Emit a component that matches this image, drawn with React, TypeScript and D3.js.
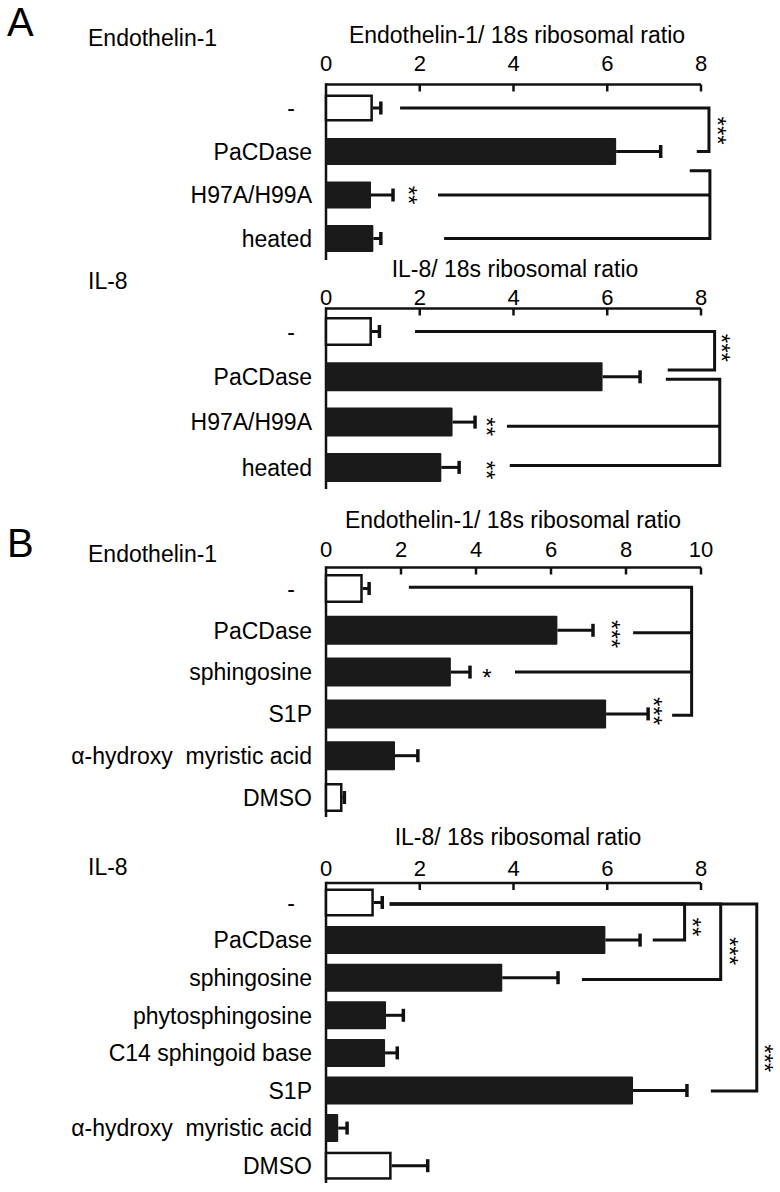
import React from "react";
import * as d3 from "d3";

// ---------- data ----------
const A_CATEGORIES = ["-", "PaCDase", "H97A/H99A", "heated"];
const A_ET1_VALUES = [1.0, 6.19, 0.96, 1.01];
const A_ET1_ERRORS = [1.17, 7.14, 1.43, 1.17];
const A_IL8_VALUES = [0.98, 5.9, 2.7, 2.46];
const A_IL8_ERRORS = [1.14, 6.7, 3.18, 2.84];

const B_ET1_CATEGORIES = ["-", "PaCDase", "sphingosine", "S1P", "α-hydroxy  myristic acid", "DMSO"];
const B_ET1_VALUES = [0.98, 6.17, 3.33, 7.47, 1.84, 0.44];
const B_ET1_ERRORS = [1.15, 7.12, 3.84, 8.59, 2.45, 0.49];

const B_IL8_CATEGORIES = [
  "-",
  "PaCDase",
  "sphingosine",
  "phytosphingosine",
  "C14 sphingoid base",
  "S1P",
  "α-hydroxy  myristic acid",
  "DMSO",
];
const B_IL8_VALUES = [1.02, 5.96, 3.76, 1.28, 1.26, 6.55, 0.26, 1.4];
const B_IL8_ERRORS = [1.2, 6.7, 4.95, 1.65, 1.52, 7.7, 0.45, 2.17];

const OPEN_CATEGORIES = ["-", "DMSO"];

const TICKS_8 = [0, 2, 4, 6, 8];
const TICKS_10 = [0, 2, 4, 6, 8, 10];

const TITLE_ET1 = "Endothelin-1/ 18s ribosomal ratio";
const TITLE_IL8 = "IL-8/ 18s ribosomal ratio";
const GENE_ET1 = "Endothelin-1";
const GENE_IL8 = "IL-8";

// significance annotations: x in ratio units, y in row index units
type Arm = { row: number; from: number };
type Bracket = { x: number; arms: Arm[] };
type Star = { x: number; row: number; text: string; vertical: boolean };

const A_ET1_BRACKETS: Bracket[] = [
  { x: 8.17, arms: [{ row: 0, from: 1.58 }, { row: 1, from: 7.91 }] },
  { x: 8.19, arms: [{ row: 1.44, from: 7.76 }, { row: 2, from: 2.39 }, { row: 3, from: 2.52 }] },
];
const A_ET1_STARS: Star[] = [
  { x: 8.46, row: 0.52, text: "***", vertical: true },
  { x: 1.86, row: 2, text: "**", vertical: true },
];

const A_IL8_BRACKETS: Bracket[] = [
  { x: 8.29, arms: [{ row: 0, from: 1.9 }, { row: 0.85, from: 7.29 }] },
  { x: 8.4, arms: [{ row: 1.055, from: 7.25 }, { row: 2.09, from: 3.86 }, { row: 2.96, from: 3.92 }] },
];
const A_IL8_STARS: Star[] = [
  { x: 8.54, row: 0.36, text: "***", vertical: true },
  { x: 3.54, row: 2.1, text: "**", vertical: true },
  { x: 3.54, row: 3.06, text: "**", vertical: true },
];

const B_ET1_BRACKETS: Bracket[] = [
  {
    x: 9.75,
    arms: [
      { row: -0.03, from: 2.21 },
      { row: 1.06, from: 8.19 },
      { row: 2, from: 5.04 },
      { row: 3.03, from: 9.23 },
    ],
  },
];
const B_ET1_STARS: Star[] = [
  { x: 7.76, row: 1.09, text: "***", vertical: true },
  { x: 4.29, row: 2, text: "*", vertical: false },
  { x: 8.88, row: 2.93, text: "***", vertical: true },
];

const B_IL8_BRACKETS: Bracket[] = [
  { x: 7.65, arms: [{ row: 0.04, from: 1.36 }, { row: 1.0, from: 6.97 }] },
  { x: 8.42, arms: [{ row: 0.04, from: 1.36 }, { row: 2.05, from: 5.46 }] },
  { x: 9.19, arms: [{ row: 0.04, from: 1.36 }, { row: 5.01, from: 8.21 }] },
];
const B_IL8_STARS: Star[] = [
  { x: 7.92, row: 0.65, text: "**", vertical: true },
  { x: 8.71, row: 1.29, text: "***", vertical: true },
  { x: 9.47, row: 4.14, text: "***", vertical: true },
];

// ---------- layout ----------
type Layout = {
  axisY: number;
  xRange: [number, number];
  domainMax: number;
  tickBaseline: number;
  titleX: number;
  titleBaseline: number;
  geneBaseline: number;
  bandTop: number;
  step: number;
  barH: number;
  axisBottom: number;
};

const FONT = "'Liberation Sans', Arial, Helvetica, sans-serif";
const INK = "#111";
const LABEL_X = 312;
const GENE_X = 88;
const STAR_SIZE = 24;

type PanelProps = {
  layout: Layout;
  title: string;
  gene: string;
  categories: string[];
  values: number[];
  errors: number[];
  ticks: number[];
  brackets: Bracket[];
  stars: Star[];
};

function Panel({ layout, title, gene, categories, values, errors, ticks, brackets, stars }: PanelProps) {
  const x = d3.scaleLinear().domain([0, layout.domainMax]).range(layout.xRange);
  const n = categories.length;
  const p = 1 - layout.barH / layout.step;
  const y = d3
    .scaleBand<string>()
    .domain(categories)
    .range([layout.bandTop, layout.bandTop + layout.step * (n - p)])
    .paddingInner(p)
    .paddingOuter(0);
  const bw = y.bandwidth();
  const row = (i: number) => (y(categories[0]) as number) + bw / 2 + i * y.step();
  const x0 = x(0);
  const capHalf = 6.5;

  return (
    <g>
      <text x={layout.titleX} y={layout.titleBaseline} fontSize={23} textAnchor="middle" fill="#000">
        {title}
      </text>
      <text x={GENE_X} y={layout.geneBaseline} fontSize={23} fill="#000">
        {gene}
      </text>
      {/* top axis */}
      <line x1={x0} x2={x(layout.domainMax)} y1={layout.axisY} y2={layout.axisY} stroke={INK} strokeWidth={2.5} />
      {ticks.map((t) => (
        <g key={t}>
          {t > 0 && (
            <line x1={x(t)} x2={x(t)} y1={layout.axisY} y2={layout.axisY + 7} stroke={INK} strokeWidth={2.5} />
          )}
          <text x={x(t)} y={layout.tickBaseline} fontSize={22} textAnchor="middle" fill="#000">
            {t}
          </text>
        </g>
      ))}
      {/* left axis */}
      <line x1={x0} x2={x0} y1={layout.axisY - 1.25} y2={layout.axisBottom} stroke={INK} strokeWidth={2.5} />
      {/* bars */}
      {categories.map((c, i) => {
        const top = y(c) as number;
        const cy = top + bw / 2;
        const open = OPEN_CATEGORIES.includes(c);
        const xe = x(values[i]);
        const xr = x(errors[i]);
        return (
          <g key={c}>
            {open ? (
              <rect x={x0} y={top + 1.25} width={xe - x0 - 1.25} height={bw - 2.5} fill="#fff" stroke={INK} strokeWidth={2.5} />
            ) : (
              <rect x={x0} y={top} width={xe - x0} height={bw} fill="#1a1a1a" rx={1} />
            )}
            <line x1={xe} x2={xr} y1={cy} y2={cy} stroke={INK} strokeWidth={3} />
            <line x1={xr} x2={xr} y1={cy - capHalf} y2={cy + capHalf} stroke={INK} strokeWidth={3.5} />
            <text
              x={c === "-" ? LABEL_X - 17 : LABEL_X}
              y={cy}
              dy="0.36em"
              fontSize={23}
              textAnchor="end"
              fill="#000"
              style={{ whiteSpace: "pre" }}
            >
              {c}
            </text>
          </g>
        );
      })}
      {/* significance brackets */}
      {brackets.map((b, bi) => {
        const arms = [...b.arms].sort((a, c) => a.row - c.row);
        const first = arms[0];
        const last = arms[arms.length - 1];
        const xv = x(b.x);
        const outer = `M${x(first.from)},${row(first.row)}H${xv}V${row(last.row)}H${x(last.from)}`;
        return (
          <g key={bi}>
            <path d={outer} fill="none" stroke={INK} strokeWidth={3} strokeLinejoin="miter" />
            {arms.slice(1, -1).map((a, ai) => (
              <line key={ai} x1={x(a.from)} x2={xv} y1={row(a.row)} y2={row(a.row)} stroke={INK} strokeWidth={3} />
            ))}
          </g>
        );
      })}
      {stars.map((s, si) =>
        s.vertical ? (
          <text
            key={si}
            transform={`translate(${x(s.x)},${row(s.row)}) rotate(90)`}
            dy="0.57em"
            fontSize={STAR_SIZE}
            textAnchor="middle"
            fill="#000"
          >
            {s.text}
          </text>
        ) : (
          <text key={si} x={x(s.x)} y={row(s.row)} dy="0.57em" fontSize={STAR_SIZE} textAnchor="middle" fill="#000">
            {s.text}
          </text>
        )
      )}
    </g>
  );
}

const LAYOUT_A_ET1: Layout = {
  axisY: 84.5,
  xRange: [326, 701],
  domainMax: 8,
  tickBaseline: 70.5,
  titleX: 517,
  titleBaseline: 43,
  geneBaseline: 46,
  bandTop: 94.5,
  step: 43.5,
  barH: 27,
  axisBottom: 260,
};
const LAYOUT_A_IL8: Layout = {
  axisY: 308.5,
  xRange: [326, 701],
  domainMax: 8,
  tickBaseline: 305,
  titleX: 515,
  titleBaseline: 277,
  geneBaseline: 289,
  bandTop: 317,
  step: 45.3,
  barH: 29,
  axisBottom: 489,
};
const LAYOUT_B_ET1: Layout = {
  axisY: 567.5,
  xRange: [326, 701],
  domainMax: 10,
  tickBaseline: 557,
  titleX: 513,
  titleBaseline: 528,
  geneBaseline: 562,
  bandTop: 574,
  step: 41.8,
  barH: 29,
  axisBottom: 817,
};
const LAYOUT_B_IL8: Layout = {
  axisY: 883,
  xRange: [326, 701],
  domainMax: 8,
  tickBaseline: 876,
  titleX: 518,
  titleBaseline: 845,
  geneBaseline: 875,
  bandTop: 888.5,
  step: 37.6,
  barH: 28,
  axisBottom: 1183,
};

export default function App() {
  return (
    <svg
      width={780}
      height={1192}
      viewBox="0 0 780 1192"
      style={{ position: "absolute", left: 0, top: 0, background: "#fff" }}
      fontFamily={FONT}
    >
      <rect width={780} height={1192} fill="#fff" />
      <text x={7} y={36} fontSize={40} fill="#000">A</text>
      <text x={7} y={557} fontSize={40} fill="#000">B</text>
      <Panel
        layout={LAYOUT_A_ET1}
        title={TITLE_ET1}
        gene={GENE_ET1}
        categories={A_CATEGORIES}
        values={A_ET1_VALUES}
        errors={A_ET1_ERRORS}
        ticks={TICKS_8}
        brackets={A_ET1_BRACKETS}
        stars={A_ET1_STARS}
      />
      <Panel
        layout={LAYOUT_A_IL8}
        title={TITLE_IL8}
        gene={GENE_IL8}
        categories={A_CATEGORIES}
        values={A_IL8_VALUES}
        errors={A_IL8_ERRORS}
        ticks={TICKS_8}
        brackets={A_IL8_BRACKETS}
        stars={A_IL8_STARS}
      />
      <Panel
        layout={LAYOUT_B_ET1}
        title={TITLE_ET1}
        gene={GENE_ET1}
        categories={B_ET1_CATEGORIES}
        values={B_ET1_VALUES}
        errors={B_ET1_ERRORS}
        ticks={TICKS_10}
        brackets={B_ET1_BRACKETS}
        stars={B_ET1_STARS}
      />
      <Panel
        layout={LAYOUT_B_IL8}
        title={TITLE_IL8}
        gene={GENE_IL8}
        categories={B_IL8_CATEGORIES}
        values={B_IL8_VALUES}
        errors={B_IL8_ERRORS}
        ticks={TICKS_8}
        brackets={B_IL8_BRACKETS}
        stars={B_IL8_STARS}
      />
    </svg>
  );
}
